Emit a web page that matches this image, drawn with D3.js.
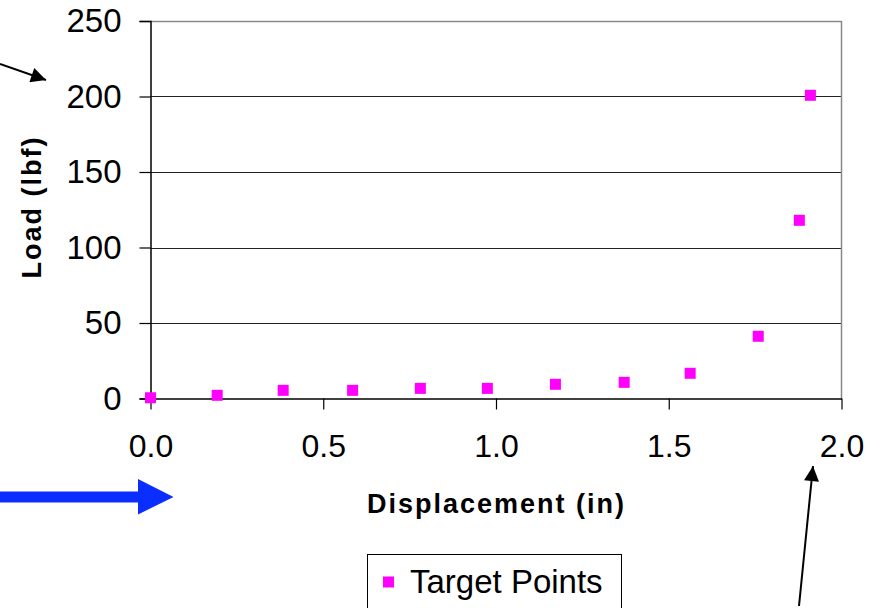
<!DOCTYPE html>
<html>
<head>
<meta charset="utf-8">
<script src="https://cdn.jsdelivr.net/npm/d3@7"></script>
<style>
  html, body { margin: 0; padding: 0; background: #fff; }
  svg { display: block; font-family: "Liberation Sans", Arial, sans-serif; }
</style>
</head>
<body>
<svg id="chart" width="876" height="608"></svg>
<script>
// Load–displacement target points
const displacement = [0.0, 0.193, 0.384, 0.585, 0.781, 0.975, 1.172, 1.371, 1.562, 1.759, 1.878, 1.910];
const load         = [0.5, 2.1, 5.4, 5.4, 6.7, 6.7, 9.4, 10.7, 16.7, 41.2, 118.0, 200.8];
const xTicks = [0, 0.5, 1.0, 1.5, 2.0];
const yTicks = [0, 50, 100, 150, 200, 250];
const seriesName = "Target Points";

const svg = d3.select("#chart");
const plotLeft = 150.5, plotRight = 841.5, plotTop = 21, plotBottom = 398.5;

const x = d3.scaleLinear().domain([0, 2]).range([plotLeft, plotRight]);
const y = d3.scaleLinear().domain([0, 250]).range([plotBottom, plotTop]);

// horizontal gridlines
svg.append("g")
  .selectAll("line")
  .data(yTicks.filter(d => d > 0))
  .join("line")
  .attr("x1", plotLeft).attr("x2", plotRight)
  .attr("y1", d => Math.round(y(d)) + 0.5).attr("y2", d => Math.round(y(d)) + 0.5)
  .attr("stroke", d => d === 250 ? "#888" : "#222")
  .attr("stroke-width", d => d === 250 ? 1.5 : 1.2);

// right border of plot area
svg.append("line")
  .attr("x1", plotRight).attr("x2", plotRight)
  .attr("y1", plotTop).attr("y2", plotBottom)
  .attr("stroke", "#888").attr("stroke-width", 1.5);

// y axis
const yAxis = d3.axisLeft(y).tickValues(yTicks).tickSize(11).tickPadding(18).tickFormat(d3.format("d"));
const gy = svg.append("g").attr("transform", `translate(${plotLeft},0)`).call(yAxis);
gy.select(".domain").attr("stroke", "#000").attr("stroke-width", 1.5);
gy.selectAll(".tick line").attr("stroke", "#000").attr("stroke-width", 1.2);
gy.selectAll(".tick text").attr("font-size", 33).attr("fill", "#000")
  .attr("font-family", "Liberation Sans, Arial, sans-serif");

// x axis
const xAxis = d3.axisBottom(x).tickValues(xTicks).tickSize(11).tickSizeOuter(0).tickPadding(25).tickFormat(d3.format(".1f"));
const gx = svg.append("g").attr("transform", `translate(0,${plotBottom})`).call(xAxis);
gx.select(".domain").attr("stroke", "#000").attr("stroke-width", 1.5);
gx.selectAll(".tick line").attr("stroke", "#000").attr("stroke-width", 1.2);
gx.selectAll(".tick text").attr("font-size", 32).attr("fill", "#000")
  .attr("font-family", "Liberation Sans, Arial, sans-serif");

// axis titles
svg.append("text")
  .attr("x", (plotLeft + plotRight) / 2 + 0.5).attr("y", 513)
  .attr("text-anchor", "middle")
  .attr("font-size", 27).attr("font-weight", "bold").attr("letter-spacing", 2)
  .text("Displacement (in)");

svg.append("text")
  .attr("transform", "translate(41,207) rotate(-90)")
  .attr("text-anchor", "middle")
  .attr("font-size", 27).attr("font-weight", "bold").attr("letter-spacing", 2)
  .text("Load (lbf)");

// points
const pts = displacement.map((d, i) => ({ x: d, y: load[i] }));
const sz = 11;
svg.append("g")
  .selectAll("rect")
  .data(pts)
  .join("rect")
  .attr("x", d => x(d.x) - sz / 2)
  .attr("y", d => y(d.y) - sz / 2)
  .attr("width", sz).attr("height", sz)
  .attr("fill", "#FF00FF");

// legend
const lg = svg.append("g");
lg.append("rect")
  .attr("x", 367.5).attr("y", 554.5).attr("width", 254).attr("height", 70)
  .attr("fill", "#fff").attr("stroke", "#000").attr("stroke-width", 1);
lg.append("rect")
  .attr("x", 388.5 - sz / 2).attr("y", 582 - sz / 2).attr("width", sz).attr("height", sz)
  .attr("fill", "#FF00FF");
lg.append("text")
  .attr("x", 410).attr("y", 593)
  .attr("font-size", 33)
  .text(seriesName);

// annotation arrows
const defs = svg.append("defs");
defs.append("marker")
  .attr("id", "headBlack")
  .attr("viewBox", "0 0 10 10").attr("refX", 10).attr("refY", 5)
  .attr("markerUnits", "userSpaceOnUse")
  .attr("markerWidth", 17).attr("markerHeight", 15)
  .attr("orient", "auto")
  .append("path").attr("d", "M0,0 L10,5 L0,10 Z").attr("fill", "#000");

svg.append("line")
  .attr("x1", 0).attr("y1", 64).attr("x2", 46).attr("y2", 80)
  .attr("stroke", "#000").attr("stroke-width", 2)
  .attr("marker-end", "url(#headBlack)");

svg.append("line")
  .attr("x1", 799).attr("y1", 606).attr("x2", 813).attr("y2", 466)
  .attr("stroke", "#000").attr("stroke-width", 2)
  .attr("marker-end", "url(#headBlack)");

// blue block arrow
svg.append("path")
  .attr("d", "M0,491.5 L138,491.5 L138,479 L173.5,497 L138,514.5 L138,502.5 L0,502.5 Z")
  .attr("fill", "#0A2EFF");
</script>
</body>
</html>
